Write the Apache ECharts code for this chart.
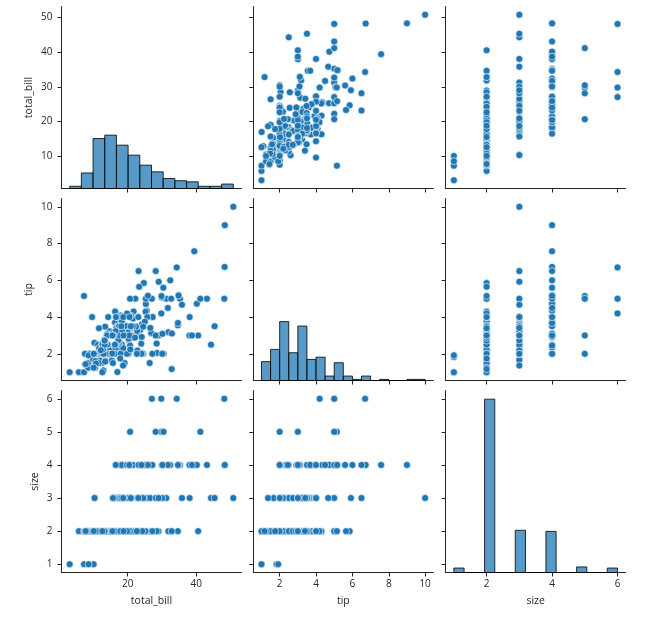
<!DOCTYPE html>
<html>
<head>
<meta charset="utf-8">
<script src="https://cdn.jsdelivr.net/npm/echarts@6/dist/echarts.min.js"></script>
<style>
	html, body { margin: 0; padding: 0; background: #fff; }
	#chart { width: 662px; height: 621px; }
</style>
</head>
<body>
<div id="chart"></div>
<script>
// tips 数据集
var totalBill = [16.99,10.34,21.01,23.68,24.59,25.29,8.77,26.88,15.04,14.78,10.27,35.26,15.42,18.43,14.83,21.58,10.33,16.29,16.97,20.65,
	17.92,20.29,15.77,39.42,19.82,17.81,13.37,12.69,21.70,19.65,9.55,18.35,15.06,20.69,17.78,24.06,16.31,16.93,18.69,31.27,
	16.04,17.46,13.94,9.68,30.40,18.29,22.23,32.40,28.55,18.04,12.54,10.29,34.81,9.94,25.56,19.49,38.01,26.41,11.24,48.27,
	20.29,13.81,11.02,18.29,17.59,20.08,16.45,3.07,20.23,15.01,12.02,17.07,26.86,25.28,14.73,10.51,17.92,27.20,22.76,17.29,
	19.44,16.66,10.07,32.68,15.98,34.83,13.03,18.28,24.71,21.16,28.97,22.49,5.75,16.32,22.75,40.17,27.28,12.03,21.01,12.46,
	11.35,15.38,44.30,22.42,20.92,15.36,20.49,25.21,18.24,14.31,14.00,7.25,38.07,23.95,25.71,17.31,29.93,10.65,12.43,24.08,
	11.69,13.42,14.26,15.95,12.48,29.80,8.52,14.52,11.38,22.82,19.08,20.27,11.17,12.26,18.26,8.51,10.33,14.15,16.00,13.16,
	17.47,34.30,41.19,27.05,16.43,8.35,18.64,11.87,9.78,7.51,14.07,13.13,17.26,24.55,19.77,29.85,48.17,25.00,13.39,16.49,
	21.50,12.66,16.21,13.81,17.51,24.52,20.76,31.71,10.59,10.63,50.81,15.81,7.25,31.85,16.82,32.90,17.89,14.48,9.60,34.63,
	34.65,23.33,45.35,23.17,40.55,20.69,20.90,30.46,18.15,23.10,15.69,19.81,28.44,15.48,16.58,7.56,10.34,43.11,13.00,13.51,
	18.71,12.74,13.00,16.40,20.53,16.47,26.59,38.73,24.27,12.76,30.06,25.89,48.33,13.27,28.17,12.90,28.15,11.59,7.74,30.14,
	12.16,13.42,8.58,15.98,13.42,16.27,10.09,20.45,13.28,22.12,24.01,15.69,11.61,10.77,15.53,10.07,12.60,32.83,35.83,29.03,
	27.18,22.67,17.82,18.78];
var tip = [1.01,1.66,3.50,3.31,3.61,4.71,2.00,3.12,1.96,3.23,1.71,5.00,1.57,3.00,3.02,3.92,1.67,3.71,3.50,3.35,
	4.08,2.75,2.23,7.58,3.18,2.34,2.00,2.00,4.30,3.00,1.45,2.50,3.00,2.45,3.27,3.60,2.00,3.07,2.31,5.00,
	2.24,2.54,3.06,1.32,5.60,3.00,5.00,6.00,2.05,3.00,2.50,2.60,5.20,1.56,4.34,3.51,3.00,1.50,1.76,6.73,
	3.21,2.00,1.98,3.76,2.64,3.15,2.47,1.00,2.01,2.09,1.97,3.00,3.14,5.00,2.20,1.25,3.08,4.00,3.00,2.71,
	3.00,3.40,1.83,5.00,2.03,5.17,2.00,4.00,5.85,3.00,3.00,3.50,1.00,4.30,3.25,4.73,4.00,1.50,3.00,1.50,
	2.50,3.00,2.50,3.48,4.08,1.64,4.06,4.29,3.76,4.00,3.00,1.00,4.00,2.55,4.00,3.50,5.07,1.50,1.80,2.92,
	2.31,1.68,2.50,2.00,2.52,4.20,1.48,2.00,2.00,2.18,1.50,2.83,1.50,2.00,3.25,1.25,2.00,2.00,2.00,2.75,
	3.50,6.70,5.00,5.00,2.30,1.50,1.36,1.63,1.73,2.00,2.50,2.00,2.74,2.00,2.00,5.14,5.00,3.75,2.61,2.00,
	3.50,2.50,2.00,2.00,3.00,3.48,2.24,4.50,1.61,2.00,10.00,3.16,5.15,3.18,4.00,3.11,2.00,2.00,4.00,3.55,
	3.68,5.65,3.50,6.50,3.00,5.00,3.50,2.00,3.50,4.00,1.50,4.19,2.56,2.02,4.00,1.44,2.00,5.00,2.00,2.00,
	4.00,2.01,2.00,2.50,4.00,3.23,3.41,3.00,2.03,2.23,2.00,5.16,9.00,2.50,6.50,1.10,3.00,1.50,1.44,3.09,
	2.20,3.48,1.92,3.00,1.58,2.50,2.00,3.00,2.72,2.88,2.00,3.00,3.39,1.47,3.00,1.25,1.00,1.17,4.67,5.92,
	2.00,2.00,1.75,3.00];
var size = [2,3,3,2,4,4,2,4,2,2,2,4,2,4,2,2,3,3,3,3,
	2,2,2,4,2,4,2,2,2,2,2,4,2,4,2,3,3,3,3,3,
	3,2,2,2,4,2,2,4,3,2,2,2,4,2,4,2,4,2,2,4,
	2,2,2,4,3,3,2,1,2,2,2,3,2,2,2,2,2,4,2,2,
	2,2,1,2,2,4,2,2,2,2,2,2,2,2,2,4,2,2,2,2,
	2,2,3,2,2,2,2,2,2,2,2,1,3,2,3,2,4,2,2,4,
	2,2,2,2,2,6,2,2,2,3,2,2,2,2,2,2,2,2,2,2,
	2,6,5,6,2,2,3,2,2,2,2,2,3,4,4,5,6,4,2,4,
	4,2,3,2,2,3,2,4,2,2,3,2,2,2,2,2,2,2,2,2,
	4,2,3,4,2,5,3,5,3,3,2,2,2,2,2,2,2,4,2,2,
	3,2,2,2,4,3,3,4,2,2,3,4,4,2,3,2,5,2,2,4,
	2,2,1,3,2,2,2,4,2,2,4,3,2,2,2,2,2,2,3,3,
	2,2,2,2];

var varNames = ['total_bill', 'tip', 'size'];
var columns = [totalBill, tip, size];
var binCount = [14, 18, 16];            // numpy 'auto' 得到的分箱数
var xTicks = [[20, 40], [2, 4, 6, 8, 10], [2, 4, 6]];
var yTicks = [[10, 20, 30, 40, 50], [2, 4, 6, 8, 10], [1, 2, 3, 4, 5, 6]];

// 布局
var colLeft = [61.5, 253.3, 445.7];
var rowTop = [6.5, 198.5, 390.5];
var cellW = 180, cellH = 182;
var yNameGap = [27, 27, 21];

var ink = '#262626';
var font = '"Open Sans", "Noto Sans", sans-serif';

function range(arr) {
	var lo = Math.min.apply(null, arr), hi = Math.max.apply(null, arr);
	var m = (hi - lo) * 0.05;
	return [lo - m, hi + m];
}

function histogram(arr, n) {
	var lo = Math.min.apply(null, arr), hi = Math.max.apply(null, arr);
	var w = (hi - lo) / n, counts = [];
	for (var i = 0; i < n; i++) counts.push(0);
	arr.forEach(function (v) {
		var k = Math.floor((v - lo) / w);
		if (k >= n) k = n - 1;
		counts[k]++;
	});
	return counts.map(function (c, i) {
		return [lo + i * w, i === n - 1 ? hi : lo + (i + 1) * w, c];
	});
}

var hists = columns.map(function (arr, i) { return histogram(arr, binCount[i]); });
var maxCount = 0;
hists.forEach(function (h) { h.forEach(function (b) { if (b[2] > maxCount) maxCount = b[2]; }); });

var grid = [], xAxis = [], yAxis = [], series = [];

function axisBase(show) {
	return {
		type: 'value',
		axisLine: { show: true, onZero: false, lineStyle: { color: ink, width: 1 } },
		axisTick: { show: true, length: 4, lineStyle: { color: ink, width: 1 } },
		splitLine: { show: false },
		axisLabel: { show: show, color: ink, fontSize: 10, fontFamily: font },
		nameTextStyle: { color: ink, fontSize: 10.5, fontFamily: font }
	};
}

for (var r = 0; r < 3; r++) {
	for (var c = 0; c < 3; c++) {
		var g = grid.length;
		grid.push({ left: colLeft[c], top: rowTop[r], width: cellW, height: cellH });

		var xa = axisBase(r === 2);
		xa.gridIndex = g;
		var xr = range(columns[c]);
		xa.min = xr[0]; xa.max = xr[1];
		xa.axisTick.customValues = xTicks[c];
		xa.axisLabel.customValues = xTicks[c];
		xa.axisLabel.margin = 7;
		if (r === 2) {
			xa.name = varNames[c];
			xa.nameLocation = 'middle';
			xa.nameGap = 23;
		}
		xAxis.push(xa);

		var ya = axisBase(c === 0);
		ya.gridIndex = g;
		var yr = range(columns[r]);
		ya.min = yr[0]; ya.max = yr[1];
		ya.axisTick.customValues = yTicks[r];
		ya.axisLabel.customValues = yTicks[r];
		ya.axisLabel.margin = 9;
		if (c === 0) {
			ya.name = varNames[r];
			ya.nameLocation = 'middle';
			ya.nameGap = yNameGap[r];
		}
		yAxis.push(ya);
		var yIndex = yAxis.length - 1;

		if (r === c) {
			// 对角线：直方图，共享计数轴
			yAxis.push({ type: 'value', gridIndex: g, show: false, min: 0, max: maxCount * 1.05 });
			series.push({
				type: 'custom',
				xAxisIndex: g,
				yAxisIndex: yAxis.length - 1,
				data: hists[c],
				encode: { x: [0, 1], y: 2 },
				renderItem: function (params, api) {
					var p0 = api.coord([api.value(0), 0]);
					var p1 = api.coord([api.value(1), api.value(2)]);
					return {
						type: 'rect',
						shape: { x: p0[0], y: p1[1], width: p1[0] - p0[0], height: p0[1] - p1[1] },
						style: { fill: 'rgba(31,119,180,0.75)', stroke: 'rgba(0,0,0,0.8)', lineWidth: 1 }
					};
				}
			});
		} else {
			var xs = columns[c], ys = columns[r], pts = [];
			for (var i = 0; i < xs.length; i++) pts.push([xs[i], ys[i]]);
			series.push({
				type: 'scatter',
				xAxisIndex: g,
				yAxisIndex: yIndex,
				data: pts,
				symbolSize: 7,
				itemStyle: { color: '#1f77b4', borderColor: '#fff', borderWidth: 0.6, opacity: 1 },
				emphasis: { disabled: true }
			});
		}
	}
}

var myChart = echarts.init(document.getElementById('chart'), null, { renderer: 'canvas' });
myChart.setOption({
	animation: false,
	backgroundColor: '#fff',
	textStyle: { fontFamily: font },
	grid: grid,
	xAxis: xAxis,
	yAxis: yAxis,
	series: series
});
</script>
</body>
</html>
